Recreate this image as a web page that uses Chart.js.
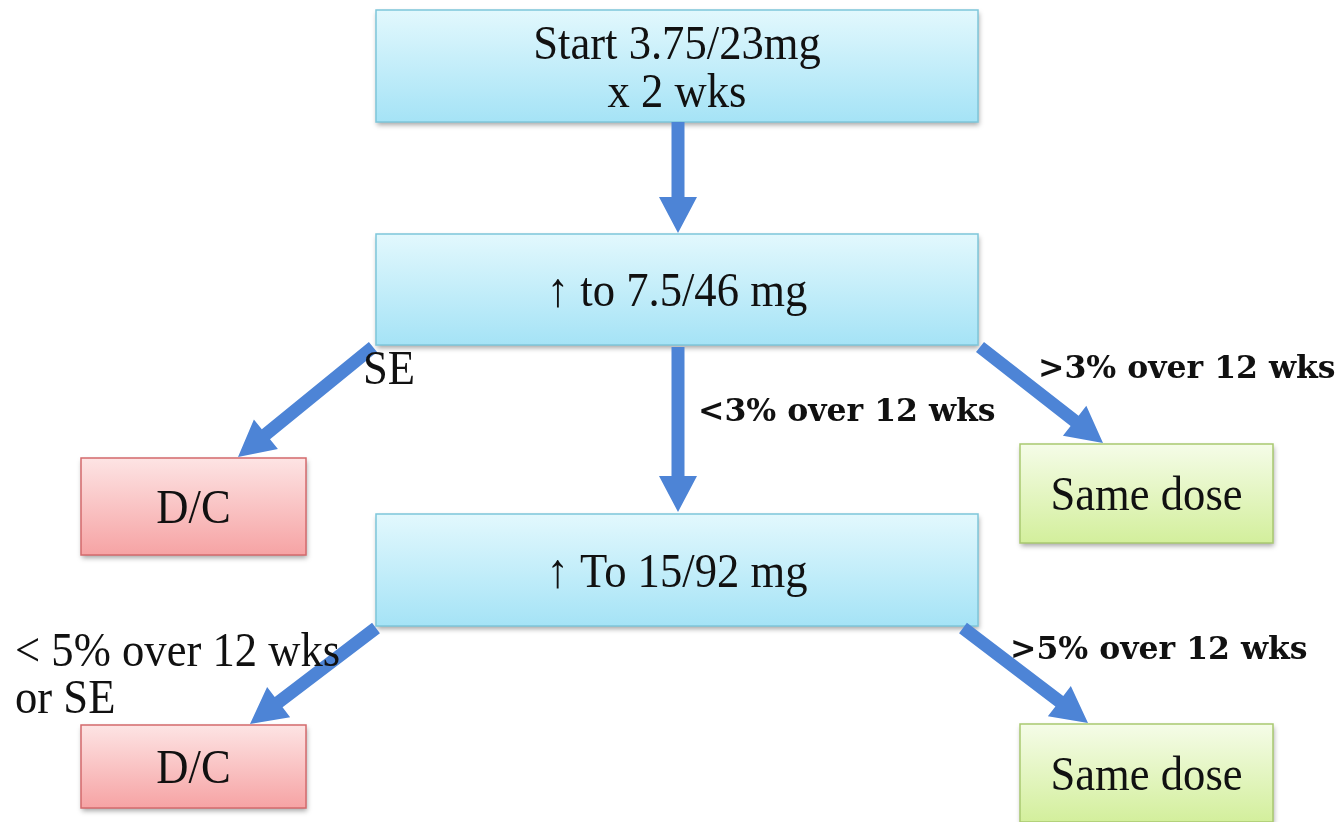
<!DOCTYPE html>
<html>
<head>
<meta charset="utf-8">
<script src="https://cdn.jsdelivr.net/npm/chart.js@4"></script>
<style>
  html, body { margin: 0; padding: 0; background: #ffffff; }
  #wrap { position: relative; width: 1338px; height: 822px; }
</style>
</head>
<body>
<div id="wrap"><canvas id="c"></canvas></div>
<script>
// ---- Flowchart data (data units = pixel-like space 0..1338 x 0..822) ----
const boxLines  = [["Start 3.75/23mg", "x 2 wks"], ["\u2191 to 7.5/46 mg"], ["D/C"], ["Same dose"], ["\u2191 To 15/92 mg"], ["D/C"], ["Same dose"]];
const boxKinds  = ["blue", "blue", "red", "green", "blue", "red", "green"];
const boxLeft   = [376, 376, 81, 1020, 376, 81, 1020];
const boxRight  = [978, 978, 306, 1273, 978, 306, 1273];
const boxTop    = [10, 234, 458, 444, 514, 725, 724];
const boxBottom = [122, 345, 555, 543, 626, 808, 822];

const edgeFromX = [678, 373, 678, 980, 376, 963];
const edgeFromY = [122, 347, 347, 347, 628, 628];
const edgeToX   = [678, 238, 678, 1103, 250, 1088];
const edgeToY   = [233, 457, 512, 443, 724, 723];

const labelText = ["SE", "<3% over 12 wks", ">3% over 12 wks", "< 5% over 12 wks", "or SE", ">5% over 12 wks"];
const labelX    = [363, 698, 1038, 15, 15, 1010];
const labelY    = [384, 421, 378, 666, 713, 659];
const labelBold = [false, true, true, false, false, true];

// ---- styles ----
const palette = {
  blue:  { top: "#e2f8fd", bottom: "#a5e3f6", border: "#7ec6da" },
  red:   { top: "#fde4e4", bottom: "#f6a3a4", border: "#d46a6c" },
  green: { top: "#f5fce8", bottom: "#d3ef9c", border: "#a9c970" }
};
const arrowColor = "#4d84d6";
const regularFont = "48px 'Liberation Serif', 'DejaVu Serif', serif";
const regularStretch = 0.93;
const boldFont = "bold 31.5px 'DejaVu Serif', 'Liberation Serif', serif";
const boldStretch = 1.0;

const edgeDatasets = edgeFromX.map((fx, i) => ({
  type: "line",
  data: [{ x: fx, y: edgeFromY[i] }, { x: edgeToX[i], y: edgeToY[i] }],
  showLine: false,
  pointRadius: 0,
  borderWidth: 0
}));

function drawText(ctx, text, x, y, align, font, stretch) {
  ctx.save();
  ctx.font = font;
  ctx.translate(x, y);
  ctx.scale(stretch, 1);
  ctx.textAlign = align;
  ctx.fillText(text, 0, 0);
  ctx.restore();
}

const flowPlugin = {
  id: "flow",
  beforeDatasetsDraw(chart) {
    const ctx = chart.ctx, xs = chart.scales.x, ys = chart.scales.y;
    boxLeft.forEach((_, i) => {
      const x0 = xs.getPixelForValue(boxLeft[i]), x1 = xs.getPixelForValue(boxRight[i]);
      const y0 = ys.getPixelForValue(boxTop[i]), y1 = ys.getPixelForValue(boxBottom[i]);
      const p = palette[boxKinds[i]];
      const g = ctx.createLinearGradient(0, y0, 0, y1);
      g.addColorStop(0, p.top);
      g.addColorStop(1, p.bottom);
      ctx.save();
      ctx.shadowColor = "rgba(0,0,0,0.35)";
      ctx.shadowBlur = 5;
      ctx.shadowOffsetX = 1;
      ctx.shadowOffsetY = 3;
      ctx.fillStyle = g;
      ctx.fillRect(x0, y0, x1 - x0, y1 - y0);
      ctx.restore();
      ctx.save();
      ctx.strokeStyle = p.border;
      ctx.lineWidth = 1.5;
      ctx.strokeRect(x0, y0, x1 - x0, y1 - y0);
      ctx.restore();
    });
  },
  afterDatasetsDraw(chart) {
    const ctx = chart.ctx, xs = chart.scales.x, ys = chart.scales.y;
    // arrows
    chart.data.datasets.forEach((ds, i) => {
      const pts = chart.getDatasetMeta(i).data;
      if (pts.length < 2) return;
      const ax = pts[0].x, ay = pts[0].y, bx = pts[1].x, by = pts[1].y;
      const dx = bx - ax, dy = by - ay, len = Math.hypot(dx, dy);
      const ux = dx / len, uy = dy / len, nx = -uy, ny = ux;
      const shaft = 6.5, head = 19, headLen = 36;
      const hx = bx - ux * headLen, hy = by - uy * headLen;
      ctx.save();
      ctx.fillStyle = arrowColor;
      ctx.beginPath();
      ctx.moveTo(ax + nx * shaft, ay + ny * shaft);
      ctx.lineTo(hx + nx * shaft, hy + ny * shaft);
      ctx.lineTo(hx + nx * head, hy + ny * head);
      ctx.lineTo(bx, by);
      ctx.lineTo(hx - nx * head, hy - ny * head);
      ctx.lineTo(hx - nx * shaft, hy - ny * shaft);
      ctx.lineTo(ax - nx * shaft, ay - ny * shaft);
      ctx.closePath();
      ctx.fill();
      ctx.restore();
    });
    // box text
    ctx.save();
    ctx.fillStyle = "#111111";
    ctx.textBaseline = "middle";
    boxLines.forEach((lines, i) => {
      const cx = xs.getPixelForValue((boxLeft[i] + boxRight[i]) / 2);
      const cy = ys.getPixelForValue((boxTop[i] + boxBottom[i]) / 2);
      const step = 48;
      lines.forEach((t, k) => {
        const y = cy + (k - (lines.length - 1) / 2) * step + 4;
        drawText(ctx, t, cx, y, "center", regularFont, regularStretch);
      });
    });
    // edge labels
    ctx.textBaseline = "alphabetic";
    labelText.forEach((t, i) => {
      drawText(ctx, t, xs.getPixelForValue(labelX[i]), ys.getPixelForValue(labelY[i]), "left",
        labelBold[i] ? boldFont : regularFont, labelBold[i] ? boldStretch : regularStretch);
    });
    ctx.restore();
  }
};

new Chart(document.getElementById("c"), {
  type: "scatter",
  data: { datasets: edgeDatasets },
  options: {
    responsive: true,
    maintainAspectRatio: false,
    animation: false,
    layout: { padding: 0 },
    plugins: { legend: { display: false }, tooltip: { enabled: false } },
    scales: {
      x: { type: "linear", min: 0, max: 1338, display: false },
      y: { type: "linear", min: 0, max: 822, reverse: true, display: false }
    }
  },
  plugins: [flowPlugin]
});
</script>
</body>
</html>
